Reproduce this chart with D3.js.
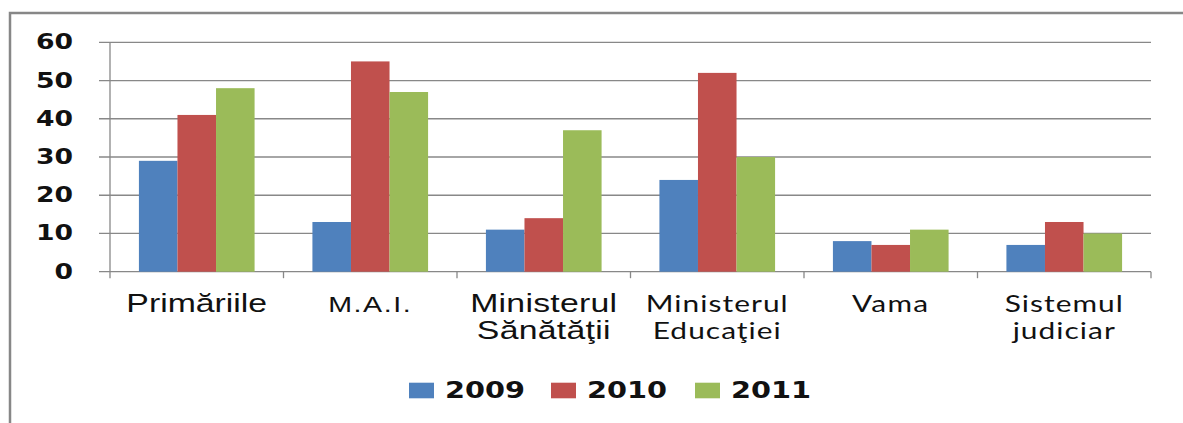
<!DOCTYPE html>
<html>
<head>
<meta charset="utf-8">
<script src="https://cdn.jsdelivr.net/npm/d3@7"></script>
<style>
  body { margin: 0; background: #fff; }
</style>
</head>
<body>
<div id="chart"></div>
<script>
const categories = ['Primăriile', 'M.A.I.', 'Ministerul\nSănătăţii', 'Ministerul\nEducaţiei', 'Vama', 'Sistemul\njudiciar'];
const years = ['2009', '2010', '2011'];
const values2009 = [29, 13, 11, 24, 8, 7];
const values2010 = [41, 55, 14, 52, 7, 13];
const values2011 = [48, 47, 37, 30, 11, 10];
const yTicks = [0, 10, 20, 30, 40, 50, 60];

const colors = ['#4f81bd', '#c0504d', '#9bbb59'];
// the original picture is stretched sideways, so text is too
const stretch = 1.3;
const labelFonts = [
  { family: 'Liberation Sans', size: 26, spacing: 0 },
  { family: 'Liberation Sans', size: 22, spacing: 1.2 },
  { family: 'Liberation Sans', size: 26, spacing: 0.2 },
  { family: 'Lato', size: 23, spacing: 0.8 },
  { family: 'Lato', size: 23, spacing: 1 },
  { family: 'Lato', size: 23, spacing: 0.8 }
];

const series = [values2009, values2010, values2011];
const data = categories.map((c, i) => ({
  name: c,
  values: series.map((s, k) => ({ year: years[k], value: s[i] }))
}));

const width = 1183, height = 423;
const plot = { left: 110, right: 1151, top: 42.3, bottom: 271.7 };
const gridCol = '#888';

const svg = d3.select('#chart').append('svg')
  .attr('width', width)
  .attr('height', height);

// outer frame (only top and left visible)
svg.append('rect')
  .attr('x', 10)
  .attr('y', 13)
  .attr('width', width + 20)
  .attr('height', height + 20)
  .attr('fill', 'none')
  .attr('stroke', '#878787')
  .attr('stroke-width', 2.5);

const x0 = d3.scaleBand()
  .domain(categories)
  .range([plot.left, plot.right]);

const barW = x0.step() / 4.5;
const x1 = d3.scaleBand()
  .domain(years)
  .range([0, barW * 3]);

const y = d3.scaleLinear()
  .domain([0, 60])
  .range([plot.bottom, plot.top]);

// gridlines
svg.append('g')
  .selectAll('line')
  .data(yTicks)
  .join('line')
  .attr('x1', plot.left - 11)
  .attr('x2', plot.right)
  .attr('y1', d => y(d))
  .attr('y2', d => y(d))
  .attr('stroke', gridCol)
  .attr('stroke-width', 1.3);

// y axis line
svg.append('line')
  .attr('x1', plot.left)
  .attr('x2', plot.left)
  .attr('y1', plot.top)
  .attr('y2', plot.bottom + 6.5)
  .attr('stroke', gridCol)
  .attr('stroke-width', 1.3);

// category ticks
svg.append('g')
  .selectAll('line')
  .data(categories.slice(1).concat(['end']))
  .join('line')
  .attr('x1', (d, i) => plot.left + x0.step() * (i + 1))
  .attr('x2', (d, i) => plot.left + x0.step() * (i + 1))
  .attr('y1', plot.bottom)
  .attr('y2', plot.bottom + 6.5)
  .attr('stroke', gridCol)
  .attr('stroke-width', 1.3);

// y labels
svg.append('g')
  .selectAll('text')
  .data(yTicks)
  .join('text')
  .attr('transform', d => `translate(73, ${y(d) + 7}) scale(${stretch}, 1)`)
  .attr('text-anchor', 'end')
  .style('font-family', 'DejaVu Sans')
  .style('font-weight', 'bold')
  .style('font-size', '20.5px')
  .style('fill', '#111')
  .text(d => d);

// bars
const groups = svg.append('g')
  .selectAll('g')
  .data(data)
  .join('g')
  .attr('transform', d => `translate(${x0(d.name) + (x0.step() - barW * 3) / 2}, 0)`);

groups.selectAll('rect')
  .data(d => d.values)
  .join('rect')
  .attr('x', d => x1(d.year))
  .attr('width', x1.bandwidth())
  .attr('y', d => y(d.value))
  .attr('height', d => y(0) - y(d.value))
  .attr('fill', (d, i) => colors[i]);

// category labels
const labels = svg.append('g')
  .selectAll('text')
  .data(data)
  .join('text')
  .attr('transform', d => `translate(${x0(d.name) + x0.step() / 2}, 312) scale(${stretch}, 1)`)
  .attr('text-anchor', 'middle')
  .style('font-family', (d, i) => labelFonts[i].family)
  .style('font-size', (d, i) => labelFonts[i].size + 'px')
  .style('letter-spacing', (d, i) => labelFonts[i].spacing + 'px')
  .style('fill', '#111');

labels.each(function(d) {
  const lines = d.name.split('\n');
  d3.select(this).selectAll('tspan')
    .data(lines)
    .join('tspan')
    .attr('x', 0)
    .attr('dy', (l, i) => i === 0 ? 0 : 27.5)
    .text(l => l);
});

// legend
const legendX = [409, 551, 695];
const legend = svg.append('g')
  .selectAll('g')
  .data(years)
  .join('g')
  .attr('transform', (d, i) => `translate(${legendX[i]}, 382.7)`);

legend.append('rect')
  .attr('width', 25)
  .attr('height', 15.6)
  .attr('fill', (d, i) => colors[i]);

legend.append('text')
  .attr('transform', `translate(36, 15.6) scale(1.25, 1)`)
  .style('font-family', 'DejaVu Sans')
  .style('font-weight', 'bold')
  .style('font-size', '23px')
  .style('fill', '#111')
  .text(d => d);
</script>
</body>
</html>
